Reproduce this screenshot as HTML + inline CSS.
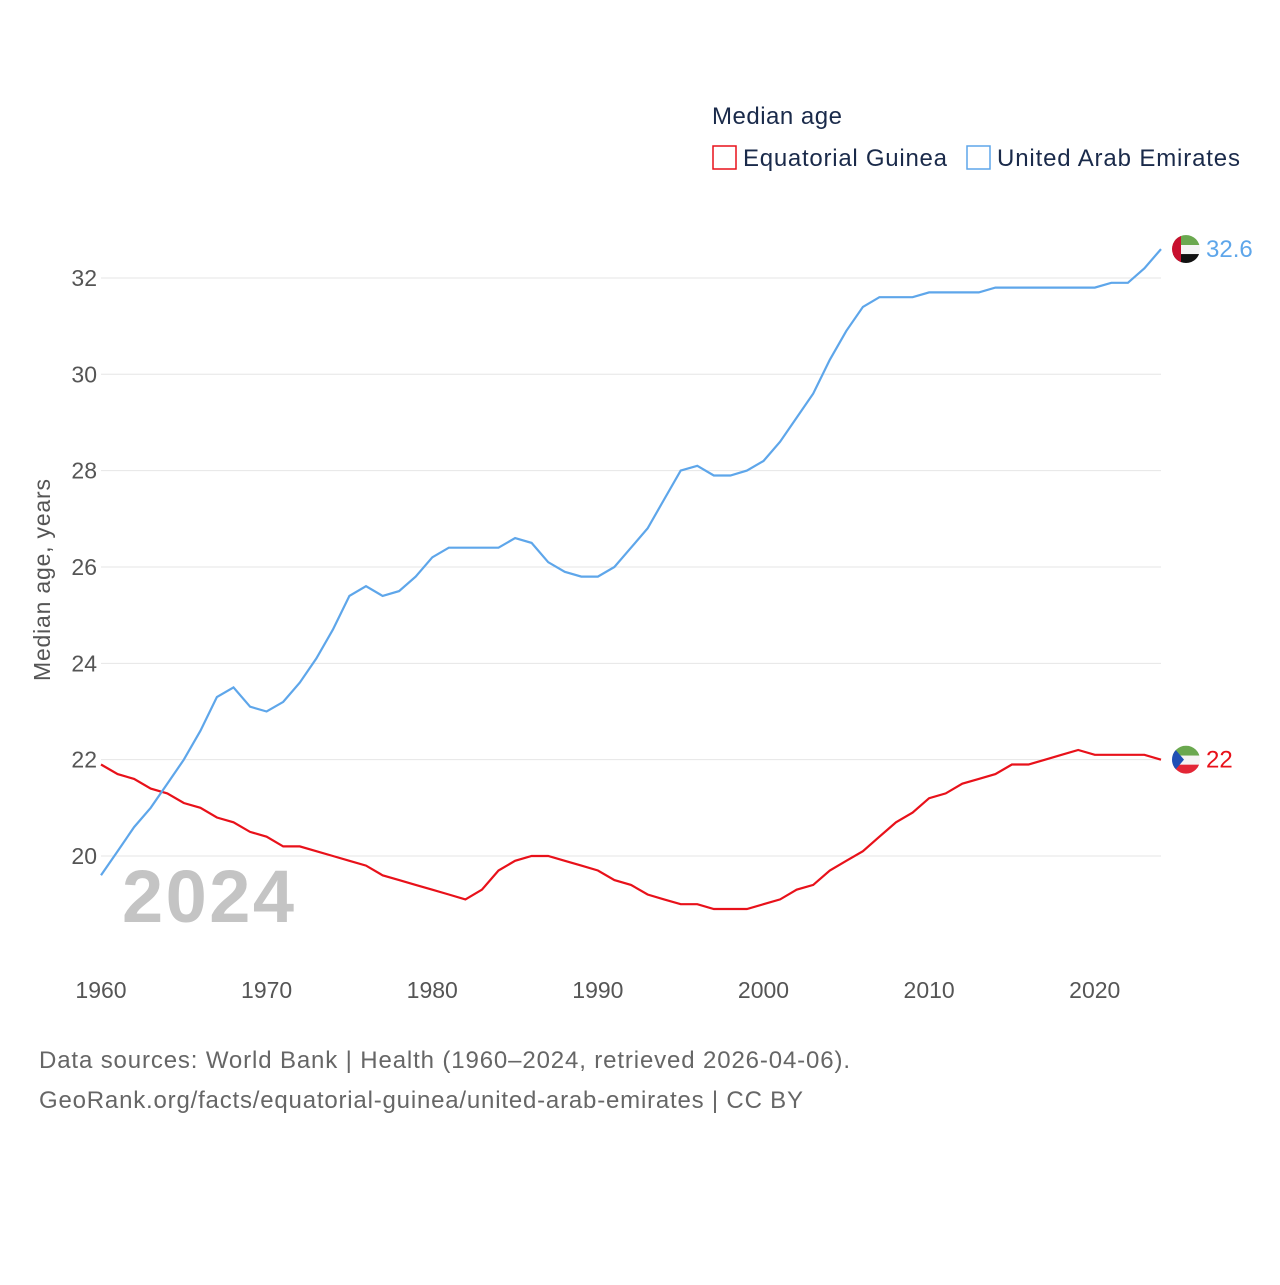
<!DOCTYPE html>
<html><head><meta charset="utf-8"><style>
body{margin:0;background:#fff;font-family:"Liberation Sans",sans-serif;}
svg text{font-family:"Liberation Sans",sans-serif;}
</style></head><body>
<svg id="c" width="1280" height="1280" viewBox="0 0 1280 1280">
<text x="712" y="124" font-size="24" fill="#1a2a4a" textLength="130">Median age</text>
<g>
<rect x="713" y="146" width="23" height="23" fill="none" stroke="#e8111a" stroke-width="1.5"/>
<text x="743" y="166" font-size="24" fill="#1a2a4a" textLength="204">Equatorial Guinea</text></g>
<g>
<rect x="967" y="146" width="23" height="23" fill="none" stroke="#5ea6ea" stroke-width="1.5"/>
<text x="997" y="166" font-size="24" fill="#1a2a4a" textLength="243">United Arab Emirates</text></g>
<g id="grid"></g>
<g id="yt"></g>
<g id="xt"></g>
<text transform="translate(50,580) rotate(-90)" text-anchor="middle" font-size="23" fill="#555" textLength="202">Median age, years</text>
<text x="122" y="922" font-size="74" font-weight="bold" fill="#c4c4c4" textLength="172">2024</text>
<g id="lines"></g>
<text x="39" y="1068" font-size="24" fill="#666" textLength="811">Data sources: World Bank | Health (1960–2024, retrieved 2026-04-06).</text>
<text x="39" y="1108" font-size="24" fill="#666" textLength="764">GeoRank.org/facts/equatorial-guinea/united-arab-emirates | CC BY</text>
</svg>
<script>
const years=[];for(let y=1960;y<=2024;y++)years.push(y);
const uae=[19.6,20.1,20.6,21.0,21.5,22.0,22.6,23.3,23.5,23.1,23.0,23.2,23.6,24.1,24.7,25.4,25.6,25.4,25.5,25.8,26.2,26.4,26.4,26.4,26.4,26.6,26.5,26.1,25.9,25.8,25.8,26.0,26.4,26.8,27.4,28.0,28.1,27.9,27.9,28.0,28.2,28.6,29.1,29.6,30.3,30.9,31.4,31.6,31.6,31.6,31.7,31.7,31.7,31.7,31.8,31.8,31.8,31.8,31.8,31.8,31.8,31.9,31.9,32.2,32.6];
const gnq=[21.9,21.7,21.6,21.4,21.3,21.1,21.0,20.8,20.7,20.5,20.4,20.2,20.2,20.1,20.0,19.9,19.8,19.6,19.5,19.4,19.3,19.2,19.1,19.3,19.7,19.9,20.0,20.0,19.9,19.8,19.7,19.5,19.4,19.2,19.1,19.0,19.0,18.9,18.9,18.9,19.0,19.1,19.3,19.4,19.7,19.9,20.1,20.4,20.7,20.9,21.2,21.3,21.5,21.6,21.7,21.9,21.9,22.0,22.1,22.2,22.1,22.1,22.1,22.1,22.0];
const yTicks=[20,22,24,26,28,30,32];
const xTicks=[1960,1970,1980,1990,2000,2010,2020];
const X=y=>101+(y-1960)*(1060/64);
const Y=v=>856-(v-20)*48.17;
const NS='http://www.w3.org/2000/svg';
function mk(t,a,p){const e=document.createElementNS(NS,t);for(const k in a)e.setAttribute(k,a[k]);p.appendChild(e);return e;}
const grid=document.getElementById('grid'),yt=document.getElementById('yt'),xt=document.getElementById('xt'),lines=document.getElementById('lines');
yTicks.forEach(v=>{
const l=mk('line',{x1:101,x2:1161,y1:Y(v),y2:Y(v),stroke:'#e6e6e6','stroke-width':1},grid);


const t=mk('text',{x:97,y:Y(v)+8,'text-anchor':'end','font-size':23,fill:'#555'},yt);t.textContent=v;


});
xTicks.forEach(v=>{
const t=mk('text',{x:X(v),y:998,'text-anchor':'middle','font-size':23,fill:'#555'},xt);t.textContent=v;


});
function series(d,c,name,flag){
const p=mk('path',{d:d.map((v,i)=>(i?'L':'M')+X(years[i]).toFixed(1)+','+Y(v).toFixed(1)).join(''),fill:'none',stroke:c,'stroke-width':2.2},lines);


const last=d[d.length-1],lx=X(years[years.length-1])+25,ly=Y(last);
const g=mk('g',{},lines);


const id='clip-'+name;
const cp=mk('clipPath',{id:id},g);mk('circle',{cx:lx,cy:ly,r:14},cp);
const fg=mk('g',{'clip-path':'url(#'+id+')'},g);
if(flag==='uae'){
mk('rect',{x:lx-14,y:ly-14,width:28,height:10,fill:'#6aa84f'},fg);
mk('rect',{x:lx-14,y:ly-4,width:28,height:9,fill:'#f4f4f4'},fg);
mk('rect',{x:lx-14,y:ly+5,width:28,height:10,fill:'#111'},fg);
mk('rect',{x:lx-14,y:ly-14,width:9,height:28,fill:'#c8102e'},fg);
}else{
mk('rect',{x:lx-14,y:ly-14,width:28,height:10,fill:'#6aa84f'},fg);
mk('rect',{x:lx-14,y:ly-4,width:28,height:9,fill:'#f4f4f4'},fg);
mk('rect',{x:lx-14,y:ly+5,width:28,height:10,fill:'#e32636'},fg);
mk('polygon',{points:(lx-14)+','+(ly-14)+' '+(lx-2)+','+ly+' '+(lx-14)+','+(ly+14),fill:'#1f4fb5'},fg);
}
const t=mk('text',{x:lx+20,y:ly+8,'font-size':24,fill:c},lines);t.textContent=last;


}
series(gnq,'#e8111a','equatorial-guinea','gnq');
series(uae,'#5ea6ea','united-arab-emirates','uae');
</script>
</body></html>
